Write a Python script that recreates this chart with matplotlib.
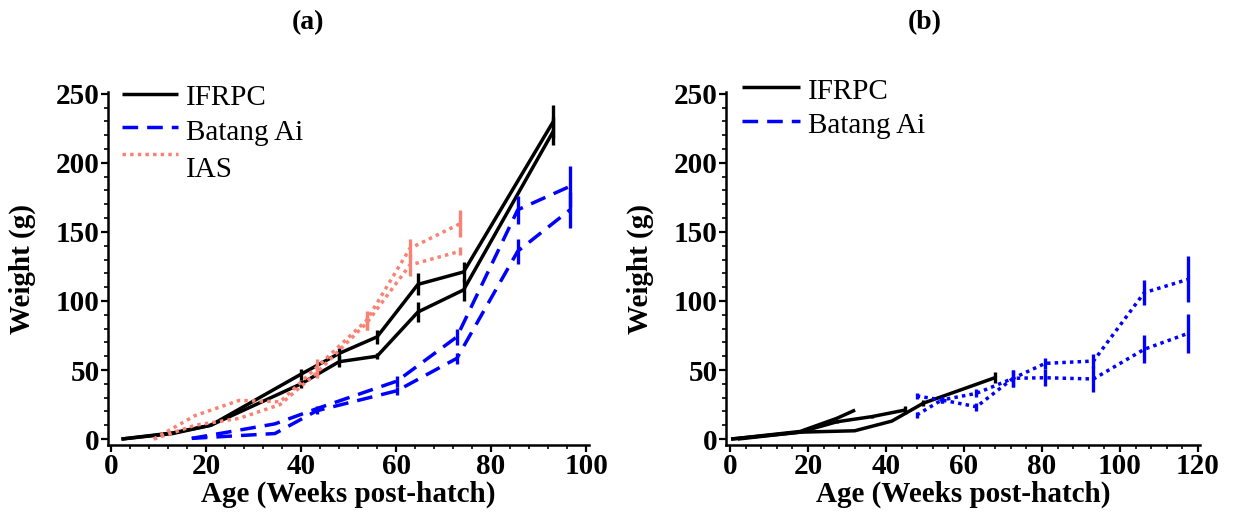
import matplotlib
matplotlib.use("Agg")
import matplotlib.pyplot as plt
from matplotlib.font_manager import FontProperties
from matplotlib.ticker import MultipleLocator

# ---- Panel (a) data: weight (g) vs age (weeks post-hatch) ----
ifrpc_a_weeks = [2.2, 13, 21, 40, 48, 56, 64.6, 74.2, 93.1]
ifrpc_a1 = [0, 4.5, 10, 47, 62, 74, 112, 121, 230]
ifrpc_a1_err = [0, 0, 0, 4, 4, 5, 8, 7.5, 12]
ifrpc_a2 = [0, 4, 10, 40, 56, 60, 92, 108, 223]
ifrpc_a2_err = [0, 0, 0, 3, 4, 2, 7.5, 8, 10]

batang_a_weeks = [17, 34.5, 43.3, 60.2, 72.8, 85.6, 96.6]
batang_a1 = [0.5, 11, 22, 42, 74, 166, 183]
batang_a1_err = [0, 0, 2, 4, 6, 10, 15]
batang_a2 = [0.5, 4, 20.5, 35, 58.5, 136, 166]
batang_a2_err = [0, 0, 2, 3, 4, 9, 13]

ias_weeks = [9, 17.7, 27, 35.6, 43.3, 53.8, 62.9, 73.5]
ias_1 = [0, 17, 28, 27, 52, 86, 138, 156]
ias_1_err = [0, 0, 0, 0, 6, 7, 7, 10]
ias_2 = [0, 10, 15, 25, 48, 84, 126, 136]
ias_2_err = [0, 0, 0, 0, 4, 5, 8, 3]

# ---- Panel (b) data ----
ifrpc_b1_weeks = [0.3, 18, 27.4, 32.1]
ifrpc_b1 = [0, 5.5, 15, 21]
ifrpc_b2_weeks = [0.3, 18, 27.4, 36.3, 44.9]
ifrpc_b2 = [0, 5, 12.5, 16.2, 21]
ifrpc_b2_err = [0, 0, 1, 1, 3]
ifrpc_b3_weeks = [2, 18, 32, 41.5, 49.6, 67.9]
ifrpc_b3 = [0, 5, 6, 13, 26, 44.4]
ifrpc_b3_err = [0, 0, 0, 0, 2, 4]

batang_b_weeks = [47.9, 54.3, 63.2, 72.6, 80.8, 93.2, 106.2, 117.5]
batang_b1 = [31.2, 28.3, 33.1, 44, 54.8, 56.5, 106, 115.7]
batang_b1_err = [2, 2, 3, 6, 4, 5, 9, 16.5]
batang_b2 = [17.4, 28.3, 23.4, 44, 44.4, 43.5, 65, 76.6]
batang_b2_err = [2, 2, 3, 6, 6, 9.5, 10, 14]

BLACK = "black"
BLUE = "#0000FF"
SALMON = "#F98274"
LW = 2.5
DASHED = (0, (4.5, 2.6))
DOTTED = (0, (1, 1.2))

tick_font = {"family": "Liberation Serif", "weight": "bold", "size": 21}
legend_font = {"family": "Liberation Serif", "size": 21}

fig = plt.figure(figsize=(12.36, 5.17), dpi=100)
W, H = 1236, 517
ax_a = fig.add_axes([108 / W, (H - 445) / H, (589 - 108) / W, (445 - 92) / H])
ax_b = fig.add_axes([726 / W, (H - 445) / H, (1200 - 726) / W, (445 - 92) / H])


def series(ax, x, y, err, color, ls):
    ax.plot(x, y, color=color, lw=LW, ls=ls, solid_capstyle="butt",
            dash_capstyle="butt")
    if err is not None:
        ax.errorbar(x, y, yerr=err, fmt="none", ecolor=color, elinewidth=2.4,
                    capsize=0)


def style(ax, xlim):
    ax.set_xlim(*xlim)
    ax.set_ylim(-4.3, 251.3)
    for s in ("top", "right"):
        ax.spines[s].set_visible(False)
    for s in ("left", "bottom"):
        ax.spines[s].set_linewidth(1.8)
    ax.xaxis.set_major_locator(MultipleLocator(20))
    ax.xaxis.set_minor_locator(MultipleLocator(4))
    ax.yaxis.set_major_locator(MultipleLocator(50))
    ax.yaxis.set_minor_locator(MultipleLocator(10))
    ax.tick_params(which="major", direction="out", length=5, width=1.6, pad=1)
    ax.tick_params(which="minor", direction="out", length=3, width=1.2)
    fp = FontProperties(**tick_font)
    for lab in ax.get_xticklabels() + ax.get_yticklabels():
        lab.set_fontproperties(fp)
    ax.set_xlabel("Age (Weeks post-hatch)", fontdict=tick_font, labelpad=0)
    ax.set_ylabel("Weight (g)", fontdict=tick_font, labelpad=14)


def legend_entry(ax, x0, x1, y_line, y_text, x_text, color, ls, label):
    ax.plot([x0, x1], [y_line, y_line], transform=ax.transAxes, color=color,
            lw=LW, ls=ls, clip_on=False, solid_capstyle="butt",
            dash_capstyle="butt")
    ax.text(x_text, y_text, label, transform=ax.transAxes, va="center",
            ha="left", fontdict=legend_font)


# Panel (a)
series(ax_a, ifrpc_a_weeks, ifrpc_a1, ifrpc_a1_err, BLACK, "-")
series(ax_a, ifrpc_a_weeks, ifrpc_a2, ifrpc_a2_err, BLACK, "-")
series(ax_a, batang_a_weeks, batang_a1, batang_a1_err, BLUE, DASHED)
series(ax_a, batang_a_weeks, batang_a2, batang_a2_err, BLUE, DASHED)
series(ax_a, ias_weeks, ias_1, ias_1_err, SALMON, DOTTED)
series(ax_a, ias_weeks, ias_2, ias_2_err, SALMON, DOTTED)
style(ax_a, (-0.63, 100.6))

# Panel (b)
series(ax_b, ifrpc_b1_weeks, ifrpc_b1, None, BLACK, "-")
series(ax_b, ifrpc_b2_weeks, ifrpc_b2, ifrpc_b2_err, BLACK, "-")
series(ax_b, ifrpc_b3_weeks, ifrpc_b3, ifrpc_b3_err, BLACK, "-")
series(ax_b, batang_b_weeks, batang_b1, batang_b1_err, BLUE, DOTTED)
series(ax_b, batang_b_weeks, batang_b2, batang_b2_err, BLUE, DOTTED)
style(ax_b, (-1.0, 120.5))


def ax_frac(ax_left_px, px, py):
    width = 481 if ax_left_px == 108 else 474
    return (px - ax_left_px) / width, (445 - py) / 353


# Legend in panel (a)
for (yl, yt, col, ls, lab) in [(94, 98, BLACK, "-", "IFRPC"),
                               (127, 133, BLUE, DASHED, "Batang Ai"),
                               (154, 170, SALMON, DOTTED, "IAS")]:
    x0, y_line = ax_frac(108, 122, yl)
    x1, _ = ax_frac(108, 178, yl)
    xt, y_text = ax_frac(108, 186, yt)
    legend_entry(ax_a, x0, x1, y_line, y_text, xt, col, ls, lab)

# Legend in panel (b)
for (yl, yt, col, ls, lab) in [(87, 92, BLACK, "-", "IFRPC"),
                               (121, 126, BLUE, DASHED, "Batang Ai")]:
    x0, y_line = ax_frac(726, 742, yl)
    x1, _ = ax_frac(726, 800, yl)
    xt, y_text = ax_frac(726, 808, yt)
    legend_entry(ax_b, x0, x1, y_line, y_text, xt, col, ls, lab)

title_font = {"family": "Liberation Serif", "weight": "bold", "size": 20}
fig.text(308 / W, 1 - 23 / H, "(a)", ha="center", va="center", fontdict=title_font)
fig.text(925 / W, 1 - 23 / H, "(b)", ha="center", va="center", fontdict=title_font)

fig.savefig("out.png", dpi=100)
